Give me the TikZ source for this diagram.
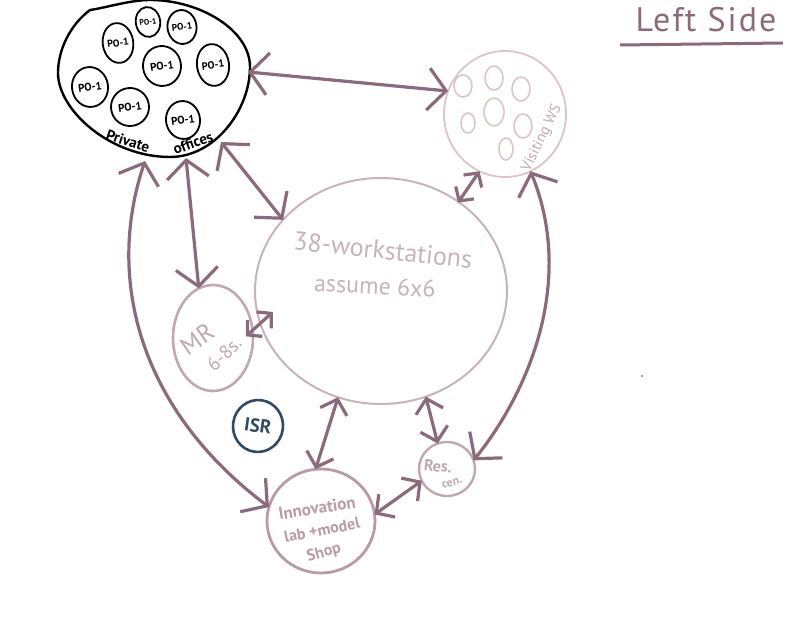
\documentclass[tikz,border=0pt]{standalone}
\usepackage{fontspec}
\setmainfont{PT Sans}
\usetikzlibrary{arrows.meta,shapes.geometric}
\definecolor{arrowc}{HTML}{8C6A7E}
\definecolor{mainc}{HTML}{C6B3BB}
\definecolor{mrc}{HTML}{BFA8B2}
\definecolor{innc}{HTML}{B79BA7}
\definecolor{visc}{HTML}{DCC4C5}
\definecolor{isrc}{HTML}{2F4A62}
\definecolor{titlec}{HTML}{8A6A7C}
\tikzset{
  oval/.style={ellipse,draw,inner sep=0pt,outer sep=0pt},
  pocirc/.style={oval,black,line width=1.8pt,text=black,font=\fontsize{11}{11}\selectfont\bfseries,rotate=8},
  vishole/.style={oval,visc,line width=1.6pt},
  link/.style={draw=arrowc,line width=3.2pt,{Straight Barb[length=18pt,width=42pt]}-{Straight Barb[length=18pt,width=42pt]}},
  midlink/.style={draw=arrowc,line width=3.2pt,{Straight Barb[length=13pt,width=28pt]}-{Straight Barb[length=13pt,width=28pt]}},
  shortlink/.style={draw=arrowc,line width=3.2pt,{Straight Barb[length=10pt,width=22pt]}-{Straight Barb[length=10pt,width=22pt]}},
  lbl/.style={inner sep=0pt,outer sep=0pt},
}
\begin{document}
\begin{tikzpicture}[x=1pt,y=-1pt]
\useasboundingbox (0,0) rectangle (807,620);
% private offices blob
\draw[black,line width=2.4pt] (90,10) .. controls (70,25) and (58,50) .. (58,73)
  .. controls (58,110) and (110,157) .. (170,157)
  .. controls (215,157) and (250,110) .. (250,67)
  .. controls (250,30) and (200,0) .. (150,0)
  .. controls (130,0) and (105,8) .. (90,10) -- cycle;
\coordinate (poR) at (248,72);
\coordinate (poA) at (221,142);
\coordinate (poB) at (186,158);
\coordinate (poC) at (145,161);
\node[pocirc,minimum width=36pt,minimum height=40pt] (p1) at (90,87) {PO-1};
\node[pocirc,minimum width=30pt,minimum height=40pt,font=\fontsize{10}{10}\selectfont\bfseries] (p2) at (118,43) {PO-1};
\node[pocirc,minimum width=22pt,minimum height=30pt,font=\fontsize{8}{8}\selectfont\bfseries] (p3) at (148,22) {PO-1};
\node[pocirc,minimum width=28pt,minimum height=34pt,font=\fontsize{9.5}{9.5}\selectfont\bfseries] (p4) at (182,27) {PO-1};
\node[pocirc,minimum width=38pt,minimum height=40pt] (p5) at (162,66) {PO-1};
\node[pocirc,minimum width=32pt,minimum height=42pt,font=\fontsize{10.5}{10.5}\selectfont\bfseries] (p6) at (213,65) {PO-1};
\node[pocirc,minimum width=38pt,minimum height=38pt] (p7) at (130,107) {PO-1};
\node[pocirc,minimum width=34pt,minimum height=38pt] (p8) at (183,120) {PO-1};
\node[lbl,rotate=-18,font=\fontsize{15}{15}\selectfont\bfseries] (lblA) at (128,141) {Private};
\node[lbl,rotate=20,font=\fontsize{15}{15}\selectfont\bfseries] (lblB) at (193,143) {offices};
% visiting
\node[oval,visc,line width=1.8pt,minimum width=122pt,minimum height=126pt] (vis) at (505,114) {};
\node[vishole,minimum width=18pt,minimum height=22pt] (v1) at (463,86) {};
\node[vishole,minimum width=18pt,minimum height=24pt] (v2) at (494,78) {};
\node[vishole,minimum width=18pt,minimum height=24pt] (v3) at (521,89) {};
\node[vishole,minimum width=20pt,minimum height=28pt] (v4) at (494,112) {};
\node[vishole,minimum width=14pt,minimum height=20pt] (v5) at (468,123) {};
\node[vishole,minimum width=18pt,minimum height=24pt] (v6) at (523,126) {};
\node[vishole,minimum width=14pt,minimum height=22pt] (v7) at (506,149) {};
\node[lbl,rotate=64,text=visc!88!black,font=\fontsize{15}{15}\selectfont] (vl) at (542,138) {Visiting WS};
% main
\node[oval,mainc,line width=2pt,minimum width=252pt,minimum height=226pt] (main) at (381,291) {};
\node[lbl,rotate=-6,text=mainc,font=\fontsize{26}{26}\selectfont] (ml1) at (383,250) {38-workstations};
\node[lbl,rotate=-3,text=mainc,font=\fontsize{24}{24}\selectfont] (ml2) at (375,286) {assume 6x6};
% MR
\node[oval,mrc,line width=2.6pt,minimum width=80pt,minimum height=106pt] (mr) at (213,338) {};
\node[lbl,rotate=35,text=mrc,font=\fontsize{25}{25}\selectfont] (mrl1) at (197,339) {MR};
\node[lbl,rotate=45,text=mrc,font=\fontsize{19}{19}\selectfont] (mrl2) at (224,354) {6-8s.};
% ISR
\node[oval,isrc,line width=2.6pt,minimum width=50pt,minimum height=52pt,text=isrc,rotate=-8,font=\fontsize{19}{19}\selectfont\bfseries] (isr) at (258,426) {ISR};
% innovation
\node[oval,innc,line width=2.8pt,minimum width=108pt,minimum height=104pt] (inn) at (321,521) {};
\node[lbl,rotate=9,text=innc,font=\fontsize{17}{17}\selectfont\bfseries] (il1) at (317,508) {Innovation};
\node[lbl,rotate=11,text=innc,font=\fontsize{16}{16}\selectfont\bfseries] (il2) at (322,530) {lab +model};
\node[lbl,rotate=15,text=innc,font=\fontsize{16}{16}\selectfont\bfseries] (il3) at (324,553) {Shop};
% resource
\node[oval,mrc,line width=2.4pt,minimum width=56pt,minimum height=54pt] (res) at (447,469) {};
\node[lbl,rotate=-6,text=mrc,font=\fontsize{16}{16}\selectfont\bfseries] (rl1) at (438,466) {Res.};
\node[lbl,rotate=15,text=mrc,font=\fontsize{12}{12}\selectfont\bfseries] (rl2) at (452,483) {cen.};
% connectors
\draw[link] (poR) -- (vis.158);
\draw[shortlink,shorten <=-1pt] (main.49) -- (vis.246);
\draw[link] (poA) -- (main.144);
\draw[link] (poB) -- (mr.106);
\draw[link] (poC) .. controls (105,280) and (140,410) .. (inn.165);
\draw[link] (vis.294) .. controls (575,280) and (530,390) .. (res.18);
\draw[shortlink,shorten <=-9pt,shorten >=-17pt] (mr.11) -- (main.195);
\draw[midlink] (main.248) -- (inn.96);
\draw[midlink] (main.293) -- (res.110);
\draw[midlink] (inn.7) -- (res.205);
% title
\node[lbl,text=titlec,font=\fontsize{34}{34}\selectfont\addfontfeature{LetterSpace=6}] (title) at (706,20) {Left Side};
\coordinate (ulA) at (620,45);
\coordinate (ulB) at (783,43);
\draw[titlec,line width=3pt] (ulA) -- (ulB);
\fill[gray] (642,376) circle (1.2pt);
\end{tikzpicture}
\end{document}
